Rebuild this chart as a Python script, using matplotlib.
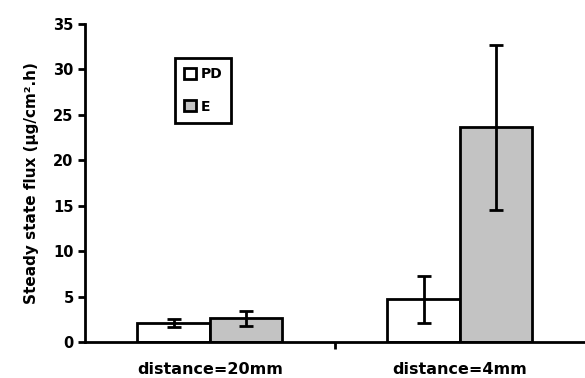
import numpy as np
import matplotlib
matplotlib.use("Agg")
import matplotlib.pyplot as plt

# wide bold face to match the stretched lettering of the original
plt.rcParams['font.family'] = ['DejaVu Sans']
plt.rcParams['font.weight'] = 'bold'

categories = ["distance=20mm", "distance=4mm"]
pd_values = [2.1, 4.7]
pd_errors = [0.45, 2.6]
e_values = [2.6, 23.6]
e_errors = [0.8, 9.1]
series_names = ["PD", "E"]

fig = plt.figure(figsize=(5.85, 3.78), dpi=100)
ax = fig.add_axes([0.145, 0.095, 0.855, 0.842])

x = np.arange(len(categories))
w = 0.29
err_kw = dict(ecolor='black', elinewidth=2, capsize=5, capthick=2)
ax.bar(x - w / 2, pd_values, w, yerr=pd_errors, color='white', edgecolor='black',
       linewidth=2, error_kw=err_kw, label=series_names[0], zorder=2)
ax.bar(x + w / 2, e_values, w, yerr=e_errors, color='#c3c3c3', edgecolor='black',
       linewidth=2, error_kw=err_kw, label=series_names[1], zorder=2)

ax.set_xlim(-0.5, 1.5)
ax.set_ylim(0, 35)
ax.set_yticks(np.arange(0, 36, 5))
ax.set_xticks(x)
ax.set_xticklabels(categories, fontsize=11.5, fontweight='bold')
ax.tick_params(axis='x', length=0, pad=14)
ax.set_xticks([0.5], minor=True)
ax.tick_params(axis='x', which='minor', length=5, width=2, direction='out')
ax.tick_params(axis='y', length=5, width=2, direction='out', labelsize=10.5, pad=3)
for lab in ax.get_yticklabels():
    lab.set_fontweight('bold')
ax.set_ylabel("Steady state flux (µg/cm².h)", fontsize=11, fontweight='bold', labelpad=10)

for s in ['top', 'right']:
    ax.spines[s].set_visible(False)
ax.spines['left'].set_linewidth(2)
ax.spines['bottom'].set_linewidth(2)

leg = ax.legend(loc='upper left', bbox_to_anchor=(0.18, 0.893), borderaxespad=0,
                frameon=True, fancybox=False, framealpha=1,
                handlelength=0.85, handleheight=0.85, handletextpad=0.35, borderpad=0.65,
                labelspacing=1.35, prop={'weight': 'bold', 'size': 10})
leg.get_frame().set_edgecolor('black')
leg.get_frame().set_linewidth(2)

fig.savefig("out.png", dpi=100)
